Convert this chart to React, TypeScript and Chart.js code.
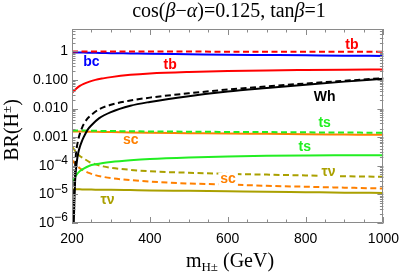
import React, { useEffect, useRef } from 'react';
import { Chart, registerables } from 'chart.js';

Chart.register(...registerables);

// ---------- data ----------
const mass = [200, 210, 220, 230, 245, 260, 280, 300, 350, 400, 500, 600, 700, 800, 900, 1000];
const massWh = [204, 206, 208, 210, 213, 216, 220, 225, 230, 240, 250, 270, 300, 350, 400, 500, 600, 700, 800, 900, 1000];

const tbDashed = [0.99, 0.99, 0.99, 0.99, 0.99, 0.99, 0.985, 0.985, 0.98, 0.98, 0.975, 0.97, 0.97, 0.965, 0.96, 0.96];
const bcSolid = [0.92, 0.91, 0.9, 0.9, 0.89, 0.88, 0.87, 0.86, 0.84, 0.82, 0.79, 0.76, 0.74, 0.72, 0.7, 0.69];
const tbSolid = [0.035, 0.048, 0.062, 0.073, 0.087, 0.1, 0.113, 0.125, 0.15, 0.168, 0.19, 0.205, 0.215, 0.222, 0.228, 0.232];
const tsDashed = [0.0017, 0.0017, 0.0017, 0.0017, 0.00168, 0.00166, 0.00165, 0.00164, 0.0016, 0.00158, 0.00155, 0.00152, 0.0015, 0.00147, 0.00145, 0.00142];
const scSolid = [0.00158, 0.00158, 0.00157, 0.00156, 0.00155, 0.00153, 0.00151, 0.0015, 0.00146, 0.00143, 0.00138, 0.00133, 0.0013, 0.00126, 0.00123, 0.0012];
const tsSolid = [2.5e-5, 4.5e-5, 6.5e-5, 8e-5, 1.0e-4, 1.12e-4, 1.25e-4, 1.35e-4, 1.55e-4, 1.72e-4, 1.95e-4, 2.12e-4, 2.24e-4, 2.3e-4, 2.33e-4, 2.35e-4];
const tauDashed = [4.8e-4, 3e-4, 2.2e-4, 1.8e-4, 1.35e-4, 1.12e-4, 9.5e-5, 8.5e-5, 7.2e-5, 6.4e-5, 5.7e-5, 5.2e-5, 4.9e-5, 4.6e-5, 4.3e-5, 4.1e-5];
const scDashed = [1.6e-4, 1.1e-4, 8.2e-5, 6.8e-5, 5.5e-5, 4.7e-5, 4.1e-5, 3.7e-5, 3.15e-5, 2.8e-5, 2.4e-5, 2.2e-5, 2e-5, 1.85e-5, 1.72e-5, 1.6e-5];
const tauSolid = [1.5e-5, 1.5e-5, 1.5e-5, 1.48e-5, 1.47e-5, 1.46e-5, 1.45e-5, 1.44e-5, 1.41e-5, 1.38e-5, 1.33e-5, 1.28e-5, 1.23e-5, 1.19e-5, 1.15e-5, 1.12e-5];

const whSolid = [5e-7, 5e-6, 3e-5, 7e-5, 1.6e-4, 2.8e-4, 4.5e-4, 7e-4, 1.0e-3, 1.8e-3, 2.6e-3, 4.6e-3, 7.5e-3, 0.0125, 0.017, 0.027, 0.039, 0.052, 0.068, 0.087, 0.11];
const whDashed = [2e-6, 2e-5, 8e-5, 2.5e-4, 5e-4, 8e-4, 1.3e-3, 2e-3, 2.8e-3, 4.5e-3, 6e-3, 9.5e-3, 0.0135, 0.019, 0.024, 0.034, 0.046, 0.059, 0.075, 0.093, 0.115];

const yTickValues = [1e-6, 1e-5, 1e-4, 1e-3, 1e-2, 1e-1, 1];
const yTickLabels = ['10^-6', '10^-5', '10^-4', '0.001', '0.010', '0.100', '1'];
const xTickStep = 200;

// curve labels: text, mass, BR, colour
const curveLabels = [
  { text: 'tb', m: 919, v: 1.63, color: '#ff0000', bg: false },
  { text: 'tb', m: 452, v: 0.32, color: '#ff0000', bg: false },
  { text: 'bc', m: 250, v: 0.41, color: '#0000ff', bg: false },
  { text: 'Wh', m: 849, v: 0.024, color: '#000000', bg: false },
  { text: 'ts', m: 849, v: 0.0032, color: '#22ee22', bg: false },
  { text: 'ts', m: 798, v: 4.6e-4, color: '#22ee22', bg: false },
  { text: 'sc', m: 351, v: 8e-4, color: '#ff8000', bg: false },
  { text: 'sc', m: 601, v: 3.3e-5, color: '#ff8000', bg: true },
  { text: 'τν', m: 859, v: 5.9e-5, color: '#aaa000', bg: true },
  { text: 'τν', m: 291, v: 6.3e-6, color: '#aaa000', bg: false },
];

const RED = '#ff0000';
const BLUE = '#0000ff';
const GREEN = '#22ee22';
const ORANGE = '#ff8000';
const OLIVE = '#aaa000';
const DASH = [6, 3.5];

function pts(xs: number[], ys: number[]) {
  return xs.map((x, i) => ({ x, y: ys[i] }));
}

function ds(data: any, color: string, dashed: boolean) {
  return {
    data,
    borderColor: color,
    backgroundColor: color,
    borderWidth: 2,
    borderDash: dashed ? DASH : [],
    pointRadius: 0,
    fill: false,
    cubicInterpolationMode: 'monotone',
  };
}

const decorPlugin = {
  id: 'decor',
  afterDatasetsDraw(chart: any) {
    const ctx = chart.ctx as CanvasRenderingContext2D;
    const { left, right, top, bottom } = chart.chartArea;
    const xs = chart.scales.x;
    const ys = chart.scales.y;

    // curve labels
    ctx.save();
    ctx.font = 'bold 14px "Liberation Sans", Arial, sans-serif';
    ctx.textAlign = 'center';
    ctx.textBaseline = 'middle';
    for (const l of curveLabels) {
      const px = xs.getPixelForValue(l.m);
      const py = ys.getPixelForValue(l.v);
      if (l.bg) {
        const w = ctx.measureText(l.text).width;
        ctx.fillStyle = '#ffffff';
        ctx.fillRect(px - w / 2 - 2, py - 7, w + 4, 14);
      }
      ctx.fillStyle = l.color;
      ctx.fillText(l.text, px, py);
    }
    ctx.restore();

    // frame and ticks
    ctx.save();
    ctx.strokeStyle = '#8a8a8a';
    ctx.lineWidth = 1;
    ctx.beginPath();
    ctx.rect(Math.round(left) + 0.5, Math.round(top) + 0.5, Math.round(right - left) - 1, Math.round(bottom - top) - 1);
    ctx.stroke();

    ctx.beginPath();
    const yMax = ys.max;
    for (let k = -6; k <= 1; k++) {
      for (let j = 1; j <= 9; j++) {
        const v = j * Math.pow(10, k);
        if (v > yMax || v < ys.min) continue;
        const py = Math.round(ys.getPixelForValue(v)) + 0.5;
        const len = j === 1 ? 6 : 3.5;
        ctx.moveTo(left, py);
        ctx.lineTo(left + len, py);
        ctx.moveTo(right, py);
        ctx.lineTo(right - len, py);
      }
    }
    for (let m = xs.min; m <= xs.max; m += 50) {
      const px = Math.round(xs.getPixelForValue(m)) + 0.5;
      const len = (m - xs.min) % xTickStep === 0 ? 6 : 3.5;
      ctx.moveTo(px, bottom);
      ctx.lineTo(px, bottom - len);
      ctx.moveTo(px, top);
      ctx.lineTo(px, top + len);
    }
    ctx.stroke();
    ctx.restore();

    // y tick labels
    ctx.save();
    ctx.fillStyle = '#000';
    ctx.textBaseline = 'middle';
    const mainFont = '14px "Liberation Sans", Arial, sans-serif';
    const supFont = '12px "Liberation Sans", Arial, sans-serif';
    yTickValues.forEach((v, i) => {
      const py = ys.getPixelForValue(v);
      const lab = yTickLabels[i];
      const xr = left - 4;
      if (lab.startsWith('10^')) {
        const exp = lab.slice(3).replace('-', '−');
        ctx.font = supFont;
        const we = ctx.measureText(exp).width;
        ctx.font = mainFont;
        const wb = ctx.measureText('10').width;
        ctx.textAlign = 'left';
        ctx.fillText('10', xr - we - wb, py);
        ctx.font = supFont;
        ctx.fillText(exp, xr - we, py - 5);
      } else {
        ctx.font = mainFont;
        ctx.textAlign = 'right';
        ctx.fillText(lab, xr, py);
      }
    });
    ctx.restore();

    // title
    ctx.save();
    ctx.fillStyle = '#000';
    ctx.textBaseline = 'alphabetic';
    const serif = '"Liberation Serif", "Times New Roman", serif';
    const segs: [string, boolean][] = [
      ['cos(', false], ['β', true], ['−', false], ['α', true], [')=0.125, tan', false], ['β', true], ['=1', false],
    ];
    const tSize = 20;
    let total = 0;
    for (const [t, it] of segs) {
      ctx.font = (it ? 'italic ' : '') + tSize + 'px ' + serif;
      total += ctx.measureText(t).width;
    }
    let x0 = 229 - total / 2;
    for (const [t, it] of segs) {
      ctx.font = (it ? 'italic ' : '') + tSize + 'px ' + serif;
      ctx.textAlign = 'left';
      ctx.fillText(t, x0, 17);
      x0 += ctx.measureText(t).width;
    }

    // x axis title
    const xsegs: [string, string, number][] = [
      ['m', '20px ' + serif, 0], ['H±', '13px ' + serif, 4], [' (GeV)', '20px ' + serif, 0],
    ];
    total = 0;
    for (const [t, f] of xsegs) { ctx.font = f; total += ctx.measureText(t).width; }
    x0 = 230 - total / 2;
    for (const [t, f, dy] of xsegs) {
      ctx.font = f;
      ctx.fillText(t, x0, 267 + dy);
      x0 += ctx.measureText(t).width;
    }

    // y axis title
    ctx.translate(18, 130);
    ctx.rotate(-Math.PI / 2);
    const ysegs: [string, string, number][] = [
      ['BR(H', '20px ' + serif, 0], ['±', '13px ' + serif, -7], [')', '20px ' + serif, 0],
    ];
    total = 0;
    for (const [t, f] of ysegs) { ctx.font = f; total += ctx.measureText(t).width; }
    x0 = -total / 2;
    for (const [t, f, dy] of ysegs) {
      ctx.font = f;
      ctx.fillText(t, x0, dy);
      x0 += ctx.measureText(t).width;
    }
    ctx.restore();
  },
};

export default function App() {
  const ref = useRef<HTMLCanvasElement | null>(null);
  useEffect(() => {
    if (!ref.current) return;
    const chart = new Chart(ref.current, {
      type: 'line',
      data: {
        datasets: [
          ds(pts(mass, tbDashed), RED, true),
          ds(pts(mass, bcSolid), BLUE, false),
          ds(pts(mass, tbSolid), RED, false),
          ds(pts(massWh, whDashed), '#000000', true),
          ds(pts(massWh, whSolid), '#000000', false),
          ds(pts(mass, tsDashed), GREEN, true),
          ds(pts(mass, scSolid), ORANGE, false),
          ds(pts(mass, tsSolid), GREEN, false),
          ds(pts(mass, tauDashed), OLIVE, true),
          ds(pts(mass, scDashed), ORANGE, true),
          ds(pts(mass, tauSolid), OLIVE, false),
        ] as any,
      },
      options: {
        animation: false,
        responsive: false,
        maintainAspectRatio: false,
        layout: { padding: { top: 29, right: 18, left: 0, bottom: 0 } },
        plugins: {
          legend: { display: false },
          tooltip: { enabled: false },
          title: { display: false },
        },
        scales: {
          x: {
            type: 'linear',
            min: 200,
            max: 1000,
            grid: { display: false, drawTicks: false },
            border: { display: false },
            ticks: {
              stepSize: xTickStep,
              color: '#000',
              font: { family: '"Liberation Sans", Arial, sans-serif', size: 14 },
              padding: 8,
              maxRotation: 0,
              autoSkip: false,
              callback: (v: any) => String(v),
            },
            afterFit: (s: any) => { s.height = 53; },
          },
          y: {
            type: 'logarithmic',
            min: 1e-6,
            max: 6,
            grid: { display: false, drawTicks: false },
            border: { display: false },
            ticks: { display: false },
            afterFit: (s: any) => { s.width = 72; },
          },
        },
      } as any,
      plugins: [decorPlugin],
    });
    return () => chart.destroy();
  }, []);
  return (
    <div style={{ position: 'absolute', left: 0, top: 0, width: 407, height: 276, background: '#fff' }}>
      <canvas ref={ref} width={407} height={276} style={{ display: 'block' }} />
    </div>
  );
}
